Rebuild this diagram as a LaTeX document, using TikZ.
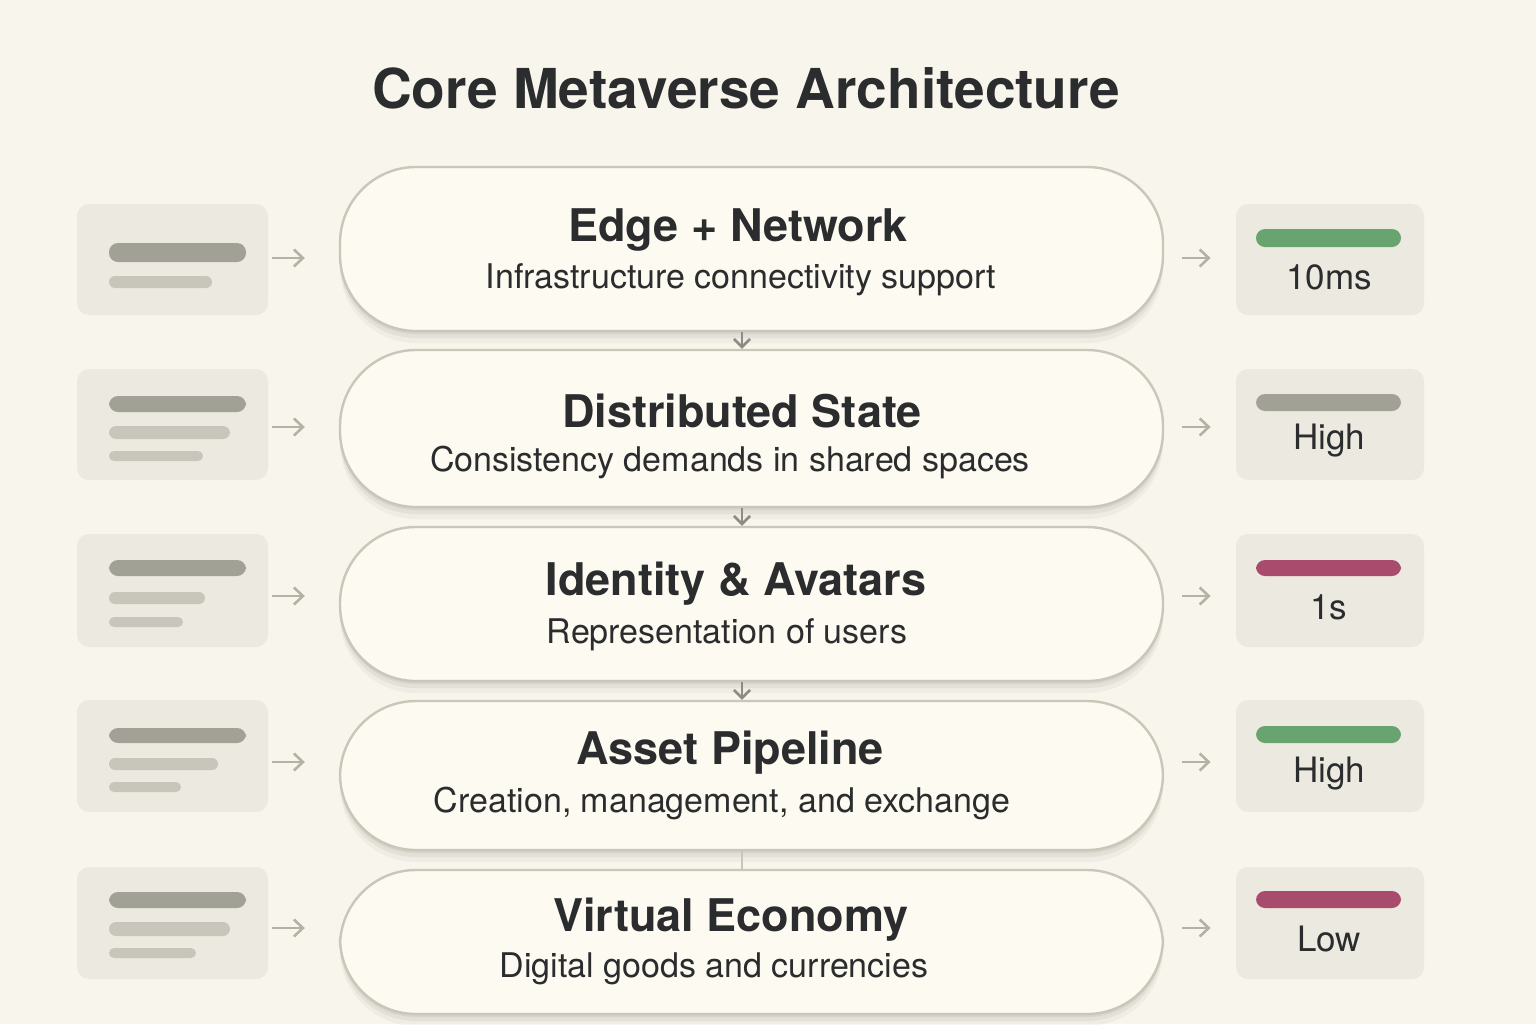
\documentclass[tikz,border=0pt]{standalone}
\usepackage{fontspec}
\setmainfont{TeX Gyre Heros}
\usetikzlibrary{arrows.meta,shadows}

\definecolor{paper}{HTML}{F8F6EC}
\definecolor{boxfill}{HTML}{FCFAF1}
\definecolor{boxline}{HTML}{CAC7B9}
\definecolor{panelfill}{HTML}{ECEAE0}
\definecolor{bardark}{HTML}{A2A196}
\definecolor{barlight}{HTML}{C8C6BA}
\definecolor{arrowgray}{HTML}{B4B1A5}
\definecolor{downgray}{HTML}{8E8C82}
\definecolor{okgreen}{HTML}{68A46F}
\definecolor{badred}{HTML}{A84B6D}
\definecolor{ink}{HTML}{2B2C2E}

\begin{document}
\begin{tikzpicture}
  [
    x=0.5pt, y=-0.5pt,
    layer/.style =
      {draw=boxline, line width=1.2pt, fill=boxfill, rounded corners=38pt,
       minimum width=411.5pt, align=center, text=ink, inner sep=0pt,
       drop shadow={shadow xshift=0pt, shadow yshift=-6pt, fill=black!50!paper, opacity=0.07},
       drop shadow={shadow xshift=0pt, shadow yshift=-3.5pt, fill=black!50!paper, opacity=0.1},
       drop shadow={shadow xshift=0pt, shadow yshift=-1.5pt, fill=black!50!paper, opacity=0.12}},
    panel/.style =
      {fill=panelfill, rounded corners=6pt, inner sep=0pt},
    ltitle/.style = {font=\fontsize{22.5}{26}\selectfont\bfseries},
    lsub/.style   = {font=\fontsize{17}{20}\selectfont},
    bar/.style    = {rounded corners=4.5pt},
    sarrow/.style =
      {draw=arrowgray, line width=1.3pt, -{Straight Barb[length=4.5pt,width=8.5pt]}},
    darrow/.style =
      {draw=downgray, line width=1.3pt, -{Straight Barb[length=4pt,width=8pt]}},
    value/.style  = {font=\fontsize{17.5}{20}\selectfont, text=ink}
  ]
  \useasboundingbox [fill=paper] (0,0) rectangle (1536,1024);

  \node [font=\fontsize{27.5}{32}\selectfont\bfseries, text=ink] at (746, 88) (title)
    {Core Metaverse Architecture};

  % layers
  \node [layer, minimum height=82pt]   at (751.5, 249)   (l1) {};
  \node [layer, minimum height=78.5pt] at (751.5, 428.5) (l2) {};
  \node [layer, minimum height=77pt]   at (751.5, 604)   (l3) {};
  \node [layer, minimum height=74.5pt] at (751.5, 775.5) (l4) {};
  \node [layer, minimum height=72pt]   at (751.5, 942)   (l5) {};

  \node [ltitle, text=ink] at (738, 230) (t1) {Edge + Network};
  \node [lsub, text=ink]   at (741, 280) (s1) {Infrastructure connectivity support};
  \node [ltitle, text=ink] at (742, 411) (t2) {Distributed State};
  \node [lsub, text=ink]   at (730, 462) (s2) {Consistency demands in shared spaces};
  \node [ltitle, text=ink] at (736, 584) (t3) {Identity \& Avatars};
  \node [lsub, text=ink]   at (727, 635) (s3) {Representation of users};
  \node [ltitle, text=ink] at (730, 753) (t4) {Asset Pipeline};
  \node [lsub, text=ink]   at (722, 803) (s4) {Creation, management, and exchange};
  \node [ltitle, text=ink] at (731, 920) (t5) {Virtual Economy};
  \node [lsub, text=ink]   at (714, 969) (s5) {Digital goods and currencies};

  % left panels
  \node [panel, minimum width=95.5pt, minimum height=55.5pt] at (172.5, 259.5) (p1) {};
  \node [panel, minimum width=95.5pt, minimum height=55.5pt] at (172.5, 424.5) (p2) {};
  \node [panel, minimum width=95.5pt, minimum height=56.5pt] at (172.5, 590.5) (p3) {};
  \node [panel, minimum width=95.5pt, minimum height=56pt]   at (172.5, 756)   (p4) {};
  \node [panel, minimum width=95.5pt, minimum height=56pt]   at (172.5, 923)   (p5) {};

  \fill [bar, fill=bardark]  (109, 243) rectangle (246, 262);
  \fill [bar, fill=barlight, rounded corners=3pt] (109, 276) rectangle (212, 288);
  \fill [bar, fill=bardark]  (109, 396) rectangle (246, 412);
  \fill [bar, fill=barlight, rounded corners=3.5pt] (109, 426) rectangle (230, 439);
  \fill [bar, fill=barlight, rounded corners=2.5pt] (109, 451) rectangle (203, 461);
  \fill [bar, fill=bardark]  (109, 560) rectangle (246, 576);
  \fill [bar, fill=barlight, rounded corners=3pt] (109, 592) rectangle (205, 604);
  \fill [bar, fill=barlight, rounded corners=2.5pt] (109, 617) rectangle (183, 627);
  \fill [bar, fill=bardark]  (109, 728) rectangle (246, 743);
  \fill [bar, fill=barlight, rounded corners=3pt] (109, 758) rectangle (218, 770);
  \fill [bar, fill=barlight, rounded corners=2.5pt] (109, 782) rectangle (181, 792);
  \fill [bar, fill=bardark]  (109, 892) rectangle (246, 908);
  \fill [bar, fill=barlight, rounded corners=3.5pt] (109, 922) rectangle (230, 936);
  \fill [bar, fill=barlight, rounded corners=2.5pt] (109, 948) rectangle (196, 958);

  % right panels
  \node [panel, minimum width=94pt, minimum height=55.5pt] at (1330, 259.5) (v1) {};
  \node [panel, minimum width=94pt, minimum height=55.5pt] at (1330, 424.5) (v2) {};
  \node [panel, minimum width=94pt, minimum height=56.5pt] at (1330, 590.5) (v3) {};
  \node [panel, minimum width=94pt, minimum height=56pt]   at (1330, 756)   (v4) {};
  \node [panel, minimum width=94pt, minimum height=56pt]   at (1330, 923)   (v5) {};

  \fill [bar, fill=okgreen] (1256, 229) rectangle (1401, 247);
  \fill [bar, fill=bardark] (1256, 394) rectangle (1401, 411);
  \fill [bar, fill=badred]  (1256, 560) rectangle (1401, 576);
  \fill [bar, fill=okgreen] (1256, 726) rectangle (1401, 743);
  \fill [bar, fill=badred]  (1256, 891) rectangle (1401, 908);

  \node [value] at (1329, 277) (n1) {10ms};
  \node [value] at (1329, 441) (n2) {High};
  \node [value] at (1329, 607) (n3) {1s};
  \node [value] at (1329, 774) (n4) {High};
  \node [value] at (1329, 939) (n5) {Low};

  % side arrows
  \draw [sarrow, shorten <=2pt, shorten >=17pt]   (p1.east |- 0,258) -- (l1.west |- 0,258);
  \draw [sarrow, shorten <=2pt, shorten >=17pt]   (p2.east |- 0,427) -- (l2.west |- 0,427);
  \draw [sarrow, shorten <=2pt, shorten >=17pt]   (p3.east |- 0,596) -- (l3.west |- 0,596);
  \draw [sarrow, shorten <=2pt, shorten >=17pt]   (p4.east |- 0,762) -- (l4.west |- 0,762);
  \draw [sarrow, shorten <=2pt, shorten >=17pt]   (p5.east |- 0,928) -- (l5.west |- 0,928);
  \draw [sarrow, shorten <=9pt, shorten >=12.5pt] (l1.east |- 0,258) -- (v1.west |- 0,258);
  \draw [sarrow, shorten <=9pt, shorten >=12.5pt] (l2.east |- 0,427) -- (v2.west |- 0,427);
  \draw [sarrow, shorten <=9pt, shorten >=12.5pt] (l3.east |- 0,596) -- (v3.west |- 0,596);
  \draw [sarrow, shorten <=9pt, shorten >=12.5pt] (l4.east |- 0,762) -- (v4.west |- 0,762);
  \draw [sarrow, shorten <=9pt, shorten >=12.5pt] (l5.east |- 0,928) -- (v5.west |- 0,928);

  % layer to layer
  \draw [darrow] ([xshift=-4.75pt]l1.south) -- ([xshift=-4.75pt]l2.north);
  \draw [darrow] ([xshift=-4.75pt]l2.south) -- ([xshift=-4.75pt]l3.north);
  \draw [darrow] ([xshift=-4.75pt]l3.south) -- ([xshift=-4.75pt]l4.north);
  \draw [draw=barlight, line width=1.1pt] ([xshift=-4.75pt]l4.south) -- ([xshift=-4.75pt]l5.north);
\end{tikzpicture}
\end{document}
